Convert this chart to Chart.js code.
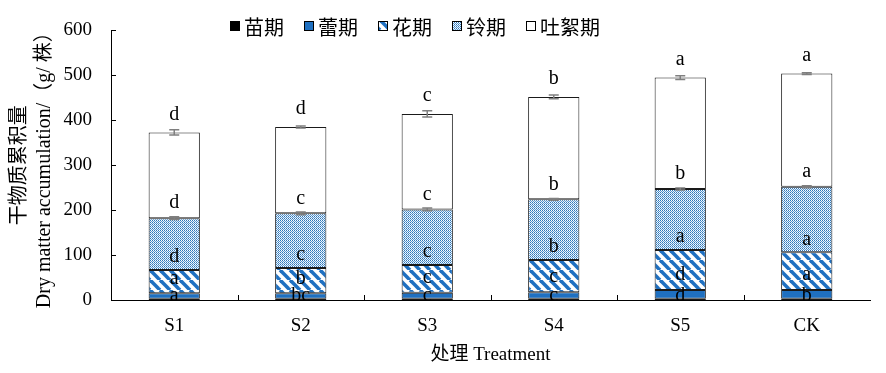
<!DOCTYPE html>
<html>
<head>
<meta charset="utf-8">
<script src="https://cdn.jsdelivr.net/npm/chart.js@4.4.0/dist/chart.umd.min.js"></script>
<style>
  html, body { margin: 0; padding: 0; background: #fff; }
</style>
</head>
<body>
<canvas id="chart" width="886" height="373"></canvas>
<script>
const treatments = ["S1", "S2", "S3", "S4", "S5", "CK"];
const stageNames = ["苗期", "蕾期", "花期", "铃期", "吐絮期"];
const seedling = [3, 3, 3, 3, 3, 3];
const bud = [12, 12, 13, 14.5, 19, 19];
const flower = [52, 56, 62, 71.5, 89, 84];
const boll = [115, 122, 123.5, 135, 136, 146];
const opening = [191, 192, 212.5, 228, 248, 252];
const bollErr = [3, 3, 3, 2, 2, 2];
const totalErr = [6, 2, 7, 4, 4, 2];
const letters = [
    ["a", "bc", "c", "c", "d", "b"],
    ["a", "b", "c", "c", "d", "a"],
    ["d", "c", "c", "b", "a", "a"],
    ["d", "c", "c", "b", "b", "a"],
    ["d", "d", "c", "b", "a", "a"]
];
const yTicks = [0, 100, 200, 300, 400, 500, 600];

const SERIF = "'Liberation Serif', 'Times New Roman', 'Noto Sans CJK SC', serif";
const CJK = "'Noto Sans CJK SC', 'Liberation Serif', serif";
const BLUE = "#1f70c1";

function stripePattern() {
    const c = document.createElement("canvas");
    c.width = 10; c.height = 10;
    const g = c.getContext("2d");
    g.fillStyle = "#fff";
    g.fillRect(0, 0, 10, 10);
    g.strokeStyle = BLUE;
    g.lineWidth = 3.6;
    [-10, 0, 10].forEach(o => {
        g.beginPath();
        g.moveTo(o, 0);
        g.lineTo(o + 10, 10);
        g.stroke();
    });
    return g.createPattern(c, "repeat");
}

function dotPattern() {
    const c = document.createElement("canvas");
    c.width = 2; c.height = 2;
    const g = c.getContext("2d");
    g.fillStyle = "#2e75b6"; g.fillRect(0, 0, 1, 1);
    g.fillStyle = "#ffffff"; g.fillRect(1, 0, 1, 1);
    g.fillStyle = "#ddebf7"; g.fillRect(0, 1, 1, 1);
    g.fillStyle = "#5b9bd5"; g.fillRect(1, 1, 1, 1);
    return g.createPattern(c, "repeat");
}

const ctx = document.getElementById("chart").getContext("2d");
const fills = ["#000000", BLUE, stripePattern(ctx), dotPattern(ctx), "#ffffff"];
const series = [seedling, bud, flower, boll, opening];

// pixel offsets of the significance letters above each stage top
const letterOffset = [3, 15, 13, 15, 18];

const extras = {
    id: "extras",
    afterDatasetsDraw(chart) {
        const { ctx, chartArea, scales } = chart;
        const x = scales.x, y = scales.y;
        ctx.save();

        // inside ticks
        ctx.strokeStyle = "#000";
        ctx.lineWidth = 1;
        yTicks.forEach(v => {
            const py = Math.round(y.getPixelForValue(v)) + 0.5;
            ctx.beginPath();
            ctx.moveTo(chartArea.left, py);
            ctx.lineTo(chartArea.left + 5, py);
            ctx.stroke();
        });
        const step = (chartArea.right - chartArea.left) / treatments.length;
        for (let i = 1; i < treatments.length; i++) {
            const px = Math.round(chartArea.left + i * step) + 0.5;
            ctx.beginPath();
            ctx.moveTo(px, chartArea.bottom);
            ctx.lineTo(px, chartArea.bottom - 5);
            ctx.stroke();
        }

        // error bars
        ctx.strokeStyle = "#7f7f7f";
        ctx.lineWidth = 1.5;
        treatments.forEach((t, i) => {
            const px = x.getPixelForValue(i);
            const bollTop = seedling[i] + bud[i] + flower[i] + boll[i];
            const total = bollTop + opening[i];
            [[bollTop, bollErr[i]], [total, totalErr[i]]].forEach(([v, e]) => {
                const p1 = y.getPixelForValue(v - e), p2 = y.getPixelForValue(v + e);
                ctx.beginPath();
                ctx.moveTo(px, p1); ctx.lineTo(px, p2);
                ctx.moveTo(px - 5, p1); ctx.lineTo(px + 5, p1);
                ctx.moveTo(px - 5, p2); ctx.lineTo(px + 5, p2);
                ctx.stroke();
            });
        });

        // letters
        ctx.fillStyle = "#000";
        ctx.font = "20px " + SERIF;
        ctx.textAlign = "center";
        ctx.textBaseline = "middle";
        treatments.forEach((t, i) => {
            let cum = 0;
            series.forEach((s, k) => {
                cum += s[i];
                const py = y.getPixelForValue(cum) - letterOffset[k];
                ctx.fillText(letters[k][i], x.getPixelForValue(i), py);
            });
        });

        // legend
        ctx.font = "20px " + CJK;
        ctx.textAlign = "left";
        const box = 10, gap = 4, sep = 20;
        const widths = stageNames.map(n => box + gap + ctx.measureText(n).width);
        const totalW = widths.reduce((a, b) => a + b, 0) + sep * (stageNames.length - 1);
        let lx = 415 - totalW / 2;
        const ly = 26;
        stageNames.forEach((n, k) => {
            ctx.fillStyle = fills[k];
            ctx.fillRect(lx, ly - box / 2, box, box);
            ctx.strokeStyle = "#000";
            ctx.lineWidth = 1;
            ctx.strokeRect(lx + 0.5, ly - box / 2 + 0.5, box - 1, box - 1);
            ctx.fillStyle = "#000";
            ctx.fillText(n, lx + box + gap, ly + 1);
            lx += widths[k] + sep;
        });

        ctx.restore();
    }
};

new Chart(ctx, {
    type: "bar",
    data: {
        labels: treatments,
        datasets: series.map((s, k) => ({
            label: stageNames[k],
            data: s,
            backgroundColor: fills[k],
            borderColor: "#1a1a1a",
            borderWidth: 1,
            borderSkipped: false,
            categoryPercentage: 1,
            barPercentage: 0.405
        }))
    },
    options: {
        responsive: false,
        animation: false,
        devicePixelRatio: 1,
        layout: { padding: { top: 25, right: 16, bottom: 0, left: 0 } },
        plugins: {
            legend: { display: false },
            tooltip: { enabled: false }
        },
        scales: {
            x: {
                stacked: true,
                grid: { display: false, drawTicks: false },
                border: { display: true, color: "#000", width: 1 },
                ticks: { color: "#000", font: { family: SERIF, size: 19 }, padding: 15 },
                title: {
                    display: true,
                    text: "处理 Treatment",
                    color: "#000",
                    font: { family: SERIF, size: 19 },
                    padding: { top: 0, bottom: 7 }
                },
                afterFit: s => { s.height = 73; }
            },
            y: {
                stacked: true,
                min: 0,
                max: 600,
                grid: { display: false, drawTicks: false },
                border: { display: true, color: "#000", width: 1 },
                ticks: { stepSize: 100, color: "#000", font: { family: SERIF, size: 19 }, padding: 19 },
                title: {
                    display: true,
                    text: ["干物质累积量", "Dry matter accumulation/（g/ 株）"],
                    color: "#000",
                    font: { family: SERIF, size: 20, lineHeight: 1.25 },
                    padding: { top: 7, bottom: 0 }
                },
                afterFit: s => { s.width = 111; }
            }
        }
    },
    plugins: [extras]
});
</script>
</body>
</html>
